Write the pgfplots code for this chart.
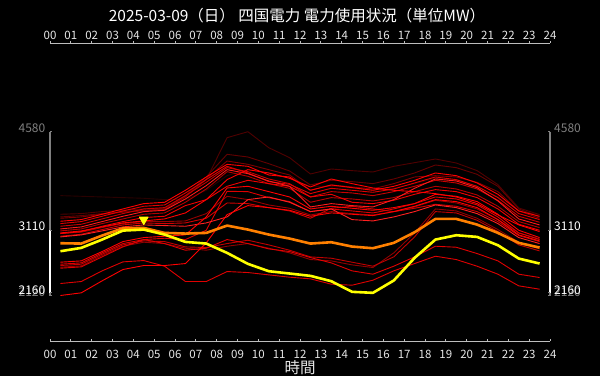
\documentclass[border=0pt]{standalone}
\usepackage{fontspec}
\setmainfont{Noto Sans CJK JP}
\usepackage{pgfplots}
\usepackage{pgfplotstable}
\pgfplotsset{compat=1.18}
\definecolor{axgray}{HTML}{BDBDBD}
\definecolor{ticktext}{HTML}{E6E6E6}
\definecolor{ygray}{HTML}{808080}
\definecolor{avgc}{HTML}{FF8000}
\definecolor{todayc}{HTML}{FFFF00}

\pgfplotstableread{
t D0 D1 D2 D3 U1 U2 U3 U4 U5 U6 P1 M1 M2 M3 S1 S2 S3 S4 L1 A B avg today
0.5 3620 3340 3300 3280 3235 3200 3160 3120 3090 3050 3060 3010 3050 3000 2620 2590 2570 2545 2530 2300 2120 2905 2785
1.5 3610 3350 3320 3300 3260 3230 3190 3150 3120 3080 3090 3040 3070 3030 2640 2610 2590 2565 2550 2330 2160 2900 2835
2.5 3600 3380 3350 3340 3340 3310 3270 3230 3200 3160 3150 3110 3140 3090 2780 2760 2740 2720 2700 2490 2340 3020 2960
3.5 3590 3400 3380 3370 3420 3390 3350 3310 3270 3230 3210 3180 3200 3150 2930 2900 2880 2860 2850 2625 2510 3130 3095
4.5 3580 3420 3400 3390 3500 3460 3420 3380 3340 3290 3240 3210 3230 3180 2990 2960 2940 2920 2960 2645 2570 3135 3110
5.5 3560 3430 3420 3410 3520 3480 3440 3400 3360 3310 3270 3200 3230 3170 3010 2980 2930 2900 2900 2560 2570 3060 3035
6.5 3560 3600 3620 3600 3700 3660 3620 3570 3520 3470 3360 3210 3240 3160 3030 2960 2850 2830 2800 2330 2600 3050 2925
7.5 3700 3860 3900 3870 3900 3860 3820 3770 3720 3560 3560 3280 3350 3210 3300 3100 2840 2800 2830 2330 2910 3060 2900
8.5 3920 4490 4240 4140 4090 4060 4040 4010 3980 3760 3860 3510 3610 3300 3735 3685 2900 2860 2960 2480 3335 3170 2760
9.5 4010 4580 4200 4090 4060 3960 3980 3950 3910 3850 4010 3500 3560 3560 3760 3680 2950 2900 2900 2465 3470 3110 2595
10.5 3960 4340 4100 4010 3930 3830 3870 3840 3800 3800 3960 3440 3480 3600 3680 3590 2880 2830 2820 2430 3440 3035 2485
11.5 3880 4190 3990 3930 3900 3790 3800 3760 3730 3760 3880 3390 3430 3520 3600 3530 2800 2760 2780 2395 3400 2975 2450
12.5 3760 3945 3780 3700 3700 3650 3600 3450 3520 3600 3750 3280 3330 3380 3420 3380 2700 2660 2690 2370 3310 2900 2415
13.5 3760 4020 3850 3780 3780 3730 3680 3500 3590 3640 3870 3430 3380 3420 3460 3420 2680 2640 2610 2290 3360 2920 2335
14.5 3740 3995 3830 3750 3740 3700 3660 3470 3570 3520 3800 3460 3350 3260 3430 3390 2620 2580 2490 2275 3340 2855 2175
15.5 3700 3975 3800 3720 3700 3670 3620 3450 3540 3500 3735 3420 3330 3240 3400 3360 2560 2540 2440 2350 3320 2830 2160
16.5 3730 4060 3870 3800 3760 3720 3680 3560 3590 3550 3700 3380 3380 3300 3440 3420 2700 2760 2560 2490 3380 2910 2345
17.5 3800 4115 3960 3900 3850 3810 3760 3730 3680 3640 3680 3430 3450 3380 3500 3500 3000 3060 2700 2600 3460 3070 2685
18.5 3880 4170 4080 3920 3960 3900 3850 3870 3760 3710 3650 3490 3550 3480 3640 3600 3380 3420 2860 2710 3560 3270 2960
19.5 3850 4110 4040 3900 3920 3860 3810 3840 3720 3680 3600 3460 3510 3440 3610 3570 3360 3390 2845 2660 3530 3270 3025
20.5 3760 3995 3940 3820 3810 3760 3720 3740 3630 3590 3500 3380 3420 3350 3530 3480 3250 3280 2750 2560 3440 3185 3000
21.5 3600 3785 3760 3680 3640 3590 3550 3540 3460 3420 3330 3230 3260 3200 3340 3300 3080 3110 2640 2440 3260 3060 2875
22.5 3400 3435 3420 3390 3390 3350 3310 3270 3230 3190 3180 3020 3060 2990 3100 3060 2880 2920 2440 2265 3030 2910 2675
23.5 3330 3335 3300 3280 3310 3260 3220 3180 3140 3100 3080 2930 2970 2900 2990 2960 2790 2820 2390 2215 2940 2840 2600
}\datatable

\pgfplotstableread{
t v
4.5 3110
}\peaktable

\newcommand{\ticksize}{\fontsize{11.5bp}{13bp}\selectfont}
\newcommand{\ysize}{\fontsize{12bp}{14bp}\selectfont}

\begin{document}
\begin{tikzpicture}
\fill[black] (0bp,0bp) rectangle (600bp,-376bp);
\useasboundingbox (0bp,0bp) rectangle (600bp,-376bp);

% title
\node[text=white, font=\fontsize{15.5bp}{18bp}\selectfont, inner sep=0pt] at (297bp,-15.3bp) {2025-03-09（日） 四国電力 電力使用状況（単位MW）};

\begin{axis}[
  at={(50bp,-295.5bp)}, anchor=south west,
  width=500bp, height=163.8bp, scale only axis,
  xmin=0, xmax=24, ymin=2120, ymax=4580,
  hide axis, clip=false,
  every axis plot/.append style={line width=0.9bp, line join=round},
]
\addplot[color={rgb,255:red,42;green,0;blue,0}] table[x=t,y=D0] {\datatable};
\addplot[color={rgb,255:red,80;green,0;blue,0}] table[x=t,y=D1] {\datatable};
\addplot[color={rgb,255:red,100;green,0;blue,0}] table[x=t,y=D2] {\datatable};
\addplot[color={rgb,255:red,125;green,0;blue,0}] table[x=t,y=D3] {\datatable};
\addplot[color={rgb,255:red,150;green,0;blue,0}] table[x=t,y=M2] {\datatable};
\addplot[color={rgb,255:red,145;green,0;blue,0}] table[x=t,y=S4] {\datatable};
\addplot[color={rgb,255:red,180;green,0;blue,0}] table[x=t,y=U5] {\datatable};
\addplot[color={rgb,255:red,200;green,0;blue,0}] table[x=t,y=U3] {\datatable};
\addplot[color={rgb,255:red,192;green,0;blue,0}] table[x=t,y=S3] {\datatable};
\addplot[color={rgb,255:red,208;green,0;blue,0}] table[x=t,y=M1] {\datatable};
\addplot[color={rgb,255:red,224;green,0;blue,0}] table[x=t,y=U2] {\datatable};
\addplot[color={rgb,255:red,224;green,0;blue,0}] table[x=t,y=S2] {\datatable};
\addplot[color={rgb,255:red,224;green,0;blue,0}] table[x=t,y=L1] {\datatable};
\addplot[color={rgb,255:red,224;green,0;blue,0}] table[x=t,y=A] {\datatable};
\addplot[color={rgb,255:red,240;green,0;blue,0}] table[x=t,y=U6] {\datatable};
\addplot[color={rgb,255:red,255;green,26;blue,26}] table[x=t,y=U4] {\datatable};
\addplot[color={rgb,255:red,255;green,32;blue,32}] table[x=t,y=M3] {\datatable};
\addplot[color={rgb,255:red,255;green,0;blue,0}] table[x=t,y=U1] {\datatable};
\addplot[color={rgb,255:red,255;green,0;blue,0}] table[x=t,y=P1] {\datatable};
\addplot[color={rgb,255:red,255;green,0;blue,0}] table[x=t,y=S1] {\datatable};
\addplot[color={rgb,255:red,255;green,0;blue,0}] table[x=t,y=B] {\datatable};
\addplot[color=avgc, line width=2.6bp] table[x=t,y=avg] {\datatable};
\addplot[color=todayc, line width=2.6bp] table[x=t,y=today] {\datatable};
\addplot[only marks, mark=triangle*, mark size=5bp,
  mark options={draw=todayc, fill=todayc, yshift=10bp, rotate=180}] table[x=t,y=v] {\peaktable};
\end{axis}

% top and bottom time axes
\draw[axgray, line width=1bp] (50bp,-43bp) -- (550bp,-43bp);
\draw[axgray, line width=1bp] (50bp,-341bp) -- (550bp,-341bp);
\foreach \h in {0,...,24}{
  \pgfmathsetmacro{\xx}{50+\h*500/24}
  \draw[axgray, line width=0.8bp] (\xx bp,-43bp) -- (\xx bp,-40.5bp);
  \draw[axgray, line width=0.8bp] (\xx bp,-341bp) -- (\xx bp,-338.5bp);
  \node[text=ticktext, font=\ticksize, inner sep=0pt] at (\xx bp,-35.6bp) {\ifnum\h<10 0\fi\h};
  \node[text=ticktext, font=\ticksize, inner sep=0pt] at (\xx bp,-354.4bp) {\ifnum\h<10 0\fi\h};
}
\node[text=ticktext, font=\fontsize{15.5bp}{18bp}\selectfont, inner sep=0pt] at (300bp,-367.5bp) {時間};

% left and right value axes
\foreach \ax/\dir in {50/1,550/-1}{
  \draw[ygray, line width=1.6bp] (\ax bp,-131.7bp) -- (\ax bp,-230bp);
  \draw[white, line width=1.8bp] (\ax bp,-230bp) -- (\ax bp,-292.8bp);
  \draw[ygray, line width=1.6bp] (\ax bp,-292.8bp) -- (\ax bp,-295.5bp);
  \foreach \yy in {131.7,230,292.8,295.5}{
    \draw[ygray, line width=0.8bp] (\ax bp,-\yy bp) -- ++(\dir*2.2bp,0);
  }
}
\node[text=ygray, font=\ysize, inner sep=0pt, anchor=east] at (45.5bp,-128.4bp) {4580};
\node[text=white, font=\ysize, inner sep=0pt, anchor=east] at (45.5bp,-226.7bp) {3110};
\node[text=ygray, font=\ysize, inner sep=0pt, anchor=east] at (45.5bp,-292.4bp) {2120};
\node[text=white, font=\ysize, inner sep=0pt, anchor=east] at (45.5bp,-289.8bp) {2160};
\node[text=ygray, font=\ysize, inner sep=0pt, anchor=west] at (554bp,-128.4bp) {4580};
\node[text=white, font=\ysize, inner sep=0pt, anchor=west] at (554bp,-226.7bp) {3110};
\node[text=ygray, font=\ysize, inner sep=0pt, anchor=west] at (554bp,-292.4bp) {2120};
\node[text=white, font=\ysize, inner sep=0pt, anchor=west] at (554bp,-289.8bp) {2160};
\end{tikzpicture}
\end{document}
